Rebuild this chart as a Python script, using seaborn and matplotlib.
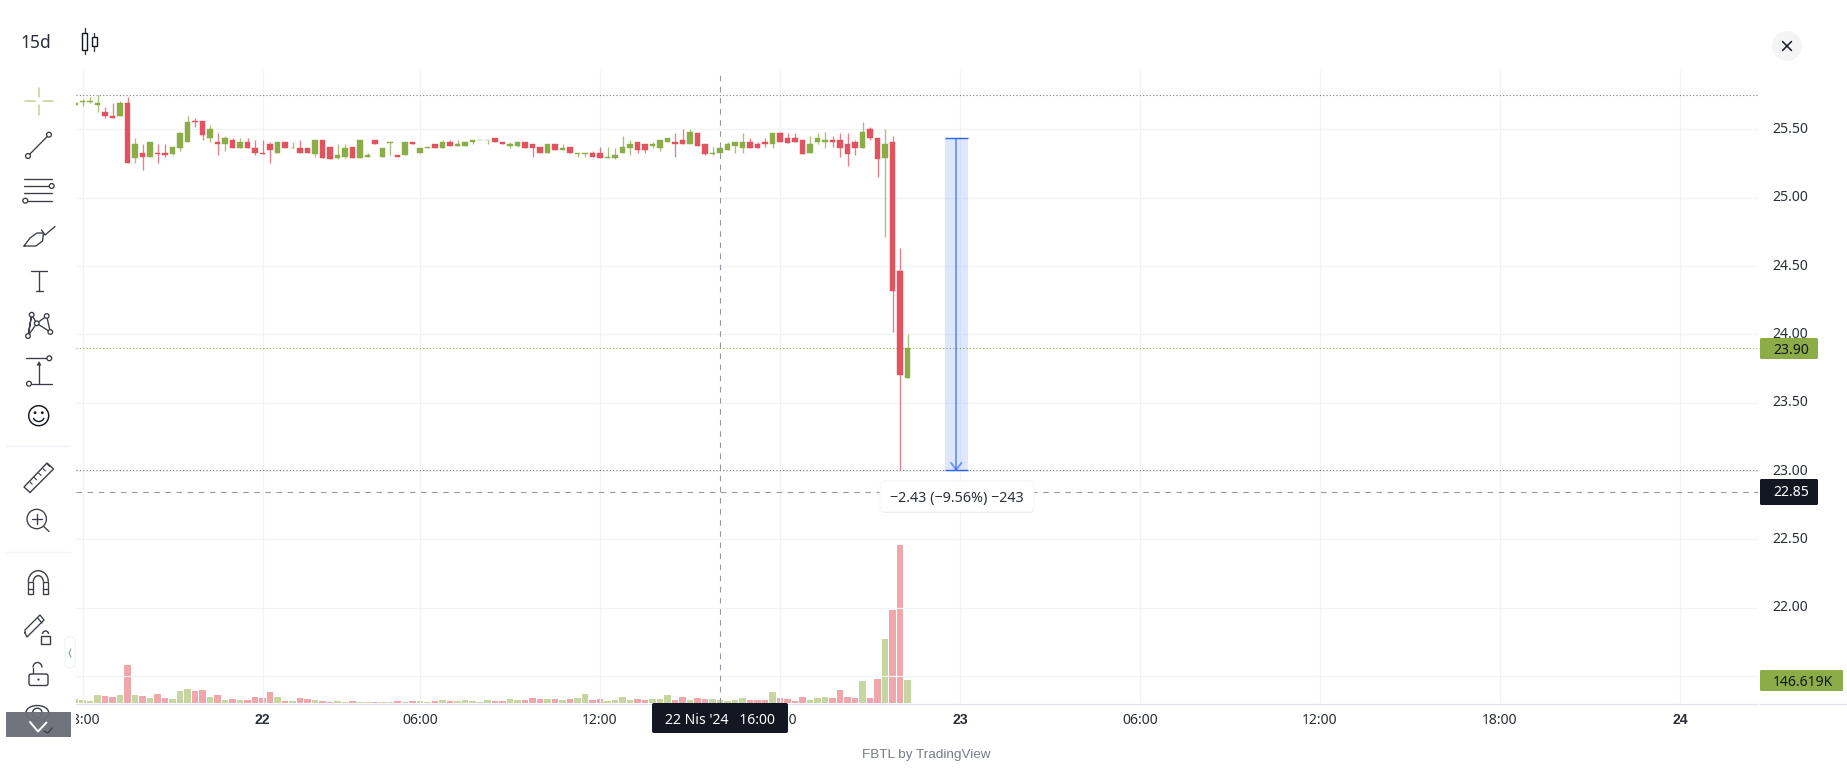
import numpy as np
import pandas as pd
import matplotlib
matplotlib.use("Agg")
import matplotlib.pyplot as plt
from matplotlib.patches import Rectangle, FancyBboxPatch, Circle, Ellipse, Arc, Polygon
import seaborn as sns

# candles: top of body, bottom of body, high, low, per 15 min bar
body_top = [25.69,25.71,25.71,25.69,25.63,25.60,25.69,25.69,
            25.39,25.33,25.41,25.33,25.33,25.37,25.47,25.55,
            25.56,25.56,25.50,25.41,25.44,25.42,25.41,25.41,
            25.36,25.33,25.39,25.41,25.41,25.36,25.36,25.36,
            25.42,25.42,25.37,25.31,25.36,25.37,25.42,25.31,
            25.42,25.36,25.41,25.31,25.41,25.41,25.36,25.37,
            25.39,25.41,25.41,25.39,25.41,25.42,25.42,25.42,
            25.44,25.41,25.39,25.41,25.41,25.39,25.37,25.39,
            25.39,25.36,25.37,25.33,25.33,25.33,25.33,25.30,
            25.31,25.37,25.39,25.41,25.39,25.39,25.42,25.44,
            25.41,25.42,25.48,25.47,25.39,25.33,25.36,25.39,
            25.41,25.41,25.41,25.39,25.41,25.47,25.47,25.44,
            25.44,25.42,25.39,25.44,25.42,25.42,25.42,25.39,
            25.41,25.48,25.50,25.44,25.39,25.41,24.46,23.90]
body_bot = [25.68,25.70,25.70,25.68,25.60,25.58,25.60,25.25,
            25.29,25.30,25.30,25.32,25.31,25.32,25.36,25.41,
            25.55,25.46,25.44,25.39,25.39,25.36,25.36,25.36,
            25.33,25.32,25.35,25.33,25.36,25.36,25.33,25.33,
            25.32,25.29,25.28,25.29,25.30,25.29,25.29,25.30,
            25.39,25.30,25.40,25.30,25.31,25.39,25.33,25.36,
            25.36,25.36,25.38,25.38,25.38,25.41,25.42,25.42,
            25.41,25.39,25.38,25.38,25.36,25.36,25.33,25.33,
            25.35,25.35,25.33,25.32,25.32,25.30,25.29,25.29,
            25.29,25.33,25.36,25.35,25.35,25.38,25.36,25.41,
            25.39,25.39,25.39,25.38,25.32,25.32,25.33,25.35,
            25.38,25.36,25.36,25.36,25.39,25.39,25.41,25.40,
            25.41,25.32,25.33,25.41,25.41,25.41,25.36,25.32,
            25.36,25.36,25.44,25.28,25.29,24.32,23.70,23.68]
highs = [25.69,25.72,25.74,25.75,25.66,25.69,25.71,25.74,
         25.44,25.39,25.41,25.39,25.39,25.37,25.48,25.60,
         25.58,25.56,25.53,25.47,25.45,25.44,25.44,25.44,
         25.42,25.42,25.41,25.41,25.41,25.41,25.42,25.36,
         25.42,25.42,25.37,25.39,25.39,25.37,25.42,25.33,
         25.42,25.36,25.41,25.31,25.41,25.41,25.36,25.37,
         25.39,25.42,25.42,25.42,25.41,25.42,25.42,25.42,
         25.44,25.41,25.41,25.41,25.41,25.39,25.37,25.39,
         25.39,25.39,25.37,25.33,25.33,25.34,25.37,25.37,
         25.36,25.45,25.42,25.41,25.39,25.41,25.42,25.44,
         25.47,25.50,25.50,25.47,25.39,25.37,25.37,25.41,
         25.41,25.47,25.44,25.41,25.44,25.47,25.48,25.47,
         25.47,25.42,25.45,25.47,25.48,25.45,25.47,25.47,
         25.42,25.55,25.52,25.44,25.50,25.45,24.63,24.00]
lows = [25.68,25.67,25.69,25.63,25.58,25.58,25.60,25.25,
        25.25,25.20,25.30,25.25,25.30,25.31,25.34,25.41,
        25.52,25.42,25.41,25.31,25.34,25.36,25.36,25.36,
        25.31,25.32,25.25,25.33,25.36,25.36,25.33,25.33,
        25.30,25.29,25.28,25.28,25.29,25.29,25.29,25.30,
        25.39,25.30,25.31,25.30,25.31,25.39,25.33,25.36,
        25.36,25.36,25.38,25.38,25.38,25.39,25.42,25.39,
        25.41,25.39,25.36,25.37,25.36,25.30,25.33,25.33,
        25.35,25.35,25.33,25.30,25.30,25.30,25.29,25.29,
        25.28,25.33,25.31,25.33,25.33,25.36,25.34,25.41,
        25.30,25.39,25.39,25.38,25.31,25.31,25.33,25.35,
        25.33,25.33,25.36,25.36,25.37,25.36,25.41,25.40,
        25.41,25.32,25.33,25.39,25.36,25.37,25.30,25.23,
        25.31,25.36,25.42,25.15,24.71,24.02,23.01,23.68]
bar_dirs = list("ggggrrgr" "grgrrggg" "rrgrgrgr" "rrrgrgrr" "grrggrgg" "rggrgrgg" "rgrggggg"
                "rrggrrrg" "rgrggrrg" "gggrrggg" "rrgrrggg" "ggrrrgrr" "rrgggrrr" "rgrrgrrg")

# volume in thousands
volume = [27,21,15,52,46,40,52,241,
          52,46,34,59,34,27,78,90,
          78,84,40,52,21,27,21,21,
          40,34,71,40,15,15,34,27,
          21,15,8,15,8,15,8,8,
          8,8,8,15,8,15,15,8,
          15,21,15,15,21,15,8,21,
          15,15,27,21,21,34,27,27,
          27,21,27,34,59,21,27,15,
          21,40,21,27,21,27,27,52,
          21,40,21,34,27,27,21,15,
          21,34,21,21,21,71,34,27,
          15,40,21,34,40,34,84,40,
          34,138,31,151,402,585,993,146.619]

price_ticks = [25.5,25.0,24.5,24.0,23.5,23.0,22.5,22.0,21.5]
price_labels = ["25.50","25.00","24.50","24.00","23.50","23.00","22.50","22.00",""]
time_ticks = [1,25,46,70,94,118,142,166,190,214]
time_labels = ["18:00","22","06:00","12:00","18:00","23","06:00","12:00","18:00","24"]
bold_times = ["22","23","24"]

high_line = 25.75
last_price = 23.90
low_line = 23.01
cross_price = 22.85
cross_bar = 86
range_start, range_end = 116, 119
range_top, range_bottom = 25.44, 23.01

GREEN = "#8bac47"
RED = "#e0535f"
GREEN_VOL = "#c7d6a1"
RED_VOL = "#f0a7ac"
GRID = "#f2f3f5"
INK = "#131722"
LABEL = "#2a2e39"
ICON = "#3a3d47"

sns.set_theme(style="white")
plt.rcParams['font.family'] = ['Noto Sans', 'DejaVu Sans']

W, H = 1847, 780
fig = plt.figure(figsize=(W / 100, H / 100), dpi=100, facecolor="white")
left, right, top, bottom = 76, 1758, 70, 703
rect = [left / W, (H - bottom) / H, (right - left) / W, (bottom - top) / H]

bars = np.arange(len(body_top))
df = pd.DataFrame({"bar": bars, "top": body_top, "bot": body_bot, "hi": highs, "lo": lows,
                   "vol": volume, "dir": bar_dirs})

ax = fig.add_axes(rect)
ax.set_zorder(2)
ax.patch.set_alpha(0)

# volume sits on its own scale under the candles
ax_vol = fig.add_axes(rect)
ax_vol.set_zorder(1)
sns.barplot(data=df, x="bar", y="vol", hue="dir", palette={"g": GREEN_VOL, "r": RED_VOL}, native_scale=True,
            dodge=False, width=0.88, legend=False, saturation=1, ax=ax_vol, linewidth=0)
ax_vol.set_xlim(0.133, 224.4)
ax_vol.set_ylim(0, 3978)
ax_vol.axis("off")

colors = df["dir"].map({"g": GREEN, "r": RED})
ax.vlines(df["bar"], df["lo"], df["hi"], colors=colors, linewidth=0.95, alpha=0.75, zorder=3)
ax.bar(df["bar"], df["top"] - df["bot"], bottom=df["bot"], width=0.68, color=colors, edgecolor=colors,
       linewidth=0.3, zorder=4)

ax.set_xlim(0.133, 224.4)
ax.set_ylim(21.303, 25.934)
ax.set_yticks(price_ticks)
ax.set_yticklabels(price_labels)
ax.set_xticks(time_ticks)
ax.set_xticklabels(time_labels)
ax.yaxis.tick_right()
ax.tick_params(axis="y", length=0, pad=10.5, labelsize=10.1, labelcolor=LABEL)
ax.tick_params(axis="x", length=0, pad=7, labelsize=10.1, labelcolor=LABEL)
for lab in ax.get_yticklabels():
    lab.set_verticalalignment("center")
# Noto Sans here has no bold cut, the day labels need one that does
for lab, name in zip(ax.get_xticklabels(), time_labels):
    if name in bold_times:
        lab.set_family(["Liberation Sans", "DejaVu Sans"])
        lab.set_fontweight("bold")
ax.grid(True, color=GRID, linewidth=0.9, zorder=0)
ax.set_axisbelow(True)
sns.despine(ax=ax, left=True, bottom=True, top=True, right=True)

# price lines and crosshair
ax.axhline(high_line, color="#787b86", linewidth=0.8, linestyle=(0, (1, 2)), zorder=2)
ax.axhline(last_price, color=GREEN, linewidth=0.8, linestyle=(0, (1, 2)), zorder=2)
ax.axhline(low_line, color="#787b86", linewidth=0.8, linestyle=(0, (1, 2)), zorder=2)
ax.axhline(cross_price, color="#9598a1", linewidth=0.8, linestyle=(0, (5, 5)), zorder=2)
ax.axvline(cross_bar, color="#9598a1", linewidth=0.8, linestyle=(0, (5, 5)), zorder=5)

# measure tool
ax.add_patch(Rectangle((range_start, range_bottom), range_end - range_start, range_top - range_bottom,
                       facecolor="#2962ff", alpha=0.15, edgecolor="none", zorder=3))
mid = (range_start + range_end) / 2
ax.hlines([range_top, range_bottom], range_start, range_end, color="#2962ff", linewidth=1.0, zorder=6)
ax.vlines(mid, range_bottom, range_top, color="#2962ff", alpha=0.6, linewidth=1.4, zorder=6)
ax.plot([mid - 0.7, mid, mid + 0.7], [range_bottom + 0.05, range_bottom, range_bottom + 0.05],
        color="#2962ff", alpha=0.6, linewidth=1.4, zorder=6)

# everything around the plot, in screen pixels
ui = fig.add_axes([0, 0, 1, 1])
ui.set_zorder(5)
ui.set_xlim(0, W)
ui.set_ylim(H, 0)
ui.axis("off")


def line(xs, ys, color=ICON, lw=0.95, z=2):
    ui.plot(xs, ys, color=color, linewidth=lw, solid_capstyle="round", solid_joinstyle="round",
            clip_on=False, zorder=z)


def ring(x, y, r, color=ICON, lw=0.95, face="white"):
    ui.add_patch(Circle((x, y), r, facecolor=face, edgecolor=color, linewidth=lw, zorder=3))


# hide the part of the first time label that runs under the toolbar
ui.add_patch(Rectangle((0, 704), left, 50, facecolor="white", edgecolor="none", zorder=1))
line([left, 1758], [703.5, 703.5], color="#e0e3eb", lw=0.9)
line([1760, W], [703.5, 703.5], color="#e0e3eb", lw=0.9)

# right hand price labels
ui.add_patch(FancyBboxPatch((1760, 338), 58, 21, boxstyle="round,pad=0,rounding_size=1.5", facecolor=GREEN, edgecolor="none", zorder=2))
ui.text(1773, 350, "23.90", color=INK, fontsize=10.1, va="center", zorder=3)
ui.add_patch(FancyBboxPatch((1760, 479), 58, 26, boxstyle="round,pad=0,rounding_size=1.5", facecolor=INK, edgecolor="none", zorder=2))
ui.text(1773, 493, "22.85", color="white", fontsize=10.1, va="center", zorder=3)
ui.add_patch(FancyBboxPatch((1760, 670), 83, 21, boxstyle="round,pad=0,rounding_size=1.5", facecolor=GREEN, edgecolor="none", zorder=2))
ui.text(1773, 682, "146.619K", color=INK, fontsize=10.1, va="center", zorder=3)

# crosshair time label and footer
ui.add_patch(FancyBboxPatch((652, 703), 136, 30, boxstyle="round,pad=0,rounding_size=2", facecolor=INK, edgecolor="none", zorder=2))
ui.text(720, 720.5, "22 Nis '24   16:00", color="white", fontsize=10.1, ha="center", va="center", zorder=3)
ui.text(926, 755, "FBTL by TradingView", color="#787b86", fontsize=9.7, ha="center", va="center",
        family=["Liberation Sans", "DejaVu Sans"])

# range label
ui.add_patch(FancyBboxPatch((881, 483), 153, 30, boxstyle="round,pad=0,rounding_size=5", facecolor="#e9eaec", edgecolor="none", zorder=2))
ui.add_patch(FancyBboxPatch((880, 481), 154, 31, boxstyle="round,pad=0,rounding_size=5", facecolor="white", edgecolor="#f0f1f3", linewidth=0.6, zorder=2))
ui.text(957, 498.5, "−2.43 (−9.56%) −243", color=LABEL, fontsize=10.3, ha="center", va="center", zorder=3)

# header
ui.text(36, 43, "15d", color=LABEL, fontsize=12.5, ha="center", va="center")
line([84.8, 84.8], [28, 54], lw=1.0)
ui.add_patch(Rectangle((82.3, 33.3), 5, 16.7, facecolor="white", edgecolor=INK, linewidth=1.0, zorder=3))
line([94.4, 94.4], [32.7, 50.7], lw=1.0)
ui.add_patch(Rectangle((92, 36.7), 5, 9.3, facecolor="white", edgecolor=INK, linewidth=1.0, zorder=3))
ui.add_patch(Ellipse((1787, 46), 30, 30, facecolor="#f4f4f5", edgecolor="none"))
line([1782.5, 1791.5], [41.5, 50.5], color=INK, lw=1.1, z=3)
line([1782.5, 1791.5], [50.5, 41.5], color=INK, lw=1.1, z=3)

# toolbar: crosshair
line([25, 35], [100.7, 100.7], color=GREEN_VOL, lw=1.2)
line([43, 53], [100.7, 100.7], color=GREEN_VOL, lw=1.2)
line([39, 39], [88, 97], color=GREEN_VOL, lw=1.2)
line([39, 39], [105, 115], color=GREEN_VOL, lw=1.2)
# trend line
line([28, 49], [156, 134.7])
ring(28, 156, 2.4)
ring(49, 134.7, 2.4)
# fib
for yy in [178.7, 186, 193.3, 200.7]:
    line([24.3, 52.3], [yy, yy])
ring(51.7, 186, 2.4)
ring(25.3, 200.7, 2.4)
# brush
line([24, 30, 37, 43.5, 42.5, 36, 24], [246, 238, 233, 233, 241, 246, 246])
line([41.5, 45, 55], [230, 235, 226.5])
# text tool
line([31, 47], [271, 271])
line([39, 39], [271, 291])
line([35.5, 42.5], [291, 291])
# pattern
pts = [(31.7, 314.7), (46.7, 316), (36.7, 323.3), (50.3, 332), (28, 336)]
line([28, 31.7, 36.7, 28, 31.7], [336, 314.7, 323.3, 336, 314.7])
line([36.7, 46.7, 50.3, 36.7], [323.3, 316, 332, 323.3])
for px, py in pts:
    ring(px, py, 2.3)
# measure
line([26, 46.5], [358.3, 358.3])
ring(49.3, 358.3, 2.4)
line([32, 52], [383.7, 383.7])
ring(29, 383.7, 2.4)
line([39, 39], [383.7, 363])
ui.add_patch(Polygon([(39, 361), (36.5, 365.5), (41.5, 365.5)], facecolor=ICON, edgecolor="none"))
# smiley
ring(38.7, 415.7, 10, color=INK, lw=1.05)
ui.add_patch(Circle((35, 412.7), 1.4, facecolor=INK, edgecolor="none", zorder=4))
ui.add_patch(Circle((42.3, 412.7), 1.4, facecolor=INK, edgecolor="none", zorder=4))
ui.add_patch(Arc((38.7, 416.5), 11, 10, theta1=15, theta2=165, edgecolor=INK, linewidth=1.0, zorder=4))
# separators
line([6, 70], [446, 446], color="#f0f3fa", lw=1.0)
line([6, 70], [552, 552], color="#f0f3fa", lw=1.0)
# ruler
ui.add_patch(Polygon([(24, 487), (47, 463), (53.5, 469), (30, 492.5)], closed=True, facecolor="white", edgecolor=ICON, linewidth=1.0, zorder=1))
for k in range(5):
    tx = 30 + k * 4.4
    ty = 482 - k * 4.4
    line([tx, tx + 2.2], [ty, ty + 2.2], lw=0.8)
# zoom
ring(36.7, 519, 9.7)
line([44, 49], [526.7, 531.5])
line([32, 41.5], [519, 519], z=4)
line([36.7, 36.7], [514.3, 523.7], z=4)
# magnet
ui.add_patch(Arc((38.3, 581.7), 20, 22, theta1=180, theta2=360, edgecolor=ICON, linewidth=1.0))
ui.add_patch(Arc((38.3, 581.7), 10, 12, theta1=180, theta2=360, edgecolor=ICON, linewidth=1.0))
line([28.3, 28.3, 33.3, 33.3, 28.3], [581.7, 594, 594, 581.7, 581.7])
line([43.3, 43.3, 48.3, 48.3, 43.3], [581.7, 594, 594, 581.7, 581.7])
line([28.3, 33.3], [589, 589])
line([43.3, 48.3], [589, 589])
# pencil with lock
line([25, 27, 44, 40, 25, 25], [633, 637, 620, 615, 630, 633])
line([37.5, 42], [618, 623])
ui.add_patch(Rectangle((41, 636), 9, 7.5, facecolor="white", edgecolor=ICON, linewidth=1.0, zorder=3))
ui.add_patch(Arc((45.5, 634), 6, 6, theta1=180, theta2=360, edgecolor=ICON, linewidth=1.0))
# lock
ui.add_patch(FancyBboxPatch((29, 674), 19, 11.5, boxstyle="round,pad=0,rounding_size=2", facecolor="white", edgecolor=ICON, linewidth=1.0, zorder=3))
ui.add_patch(Arc((37.5, 667.5), 9, 10, theta1=180, theta2=360, edgecolor=ICON, linewidth=1.0))
line([33, 33], [667.5, 674])
ui.add_patch(Circle((38.5, 679.5), 1.1, facecolor=ICON, edgecolor="none", zorder=4))
# eye and the grey box over it
ui.add_patch(Ellipse((37.3, 713), 23, 15, facecolor="white", edgecolor=ICON, linewidth=1.0, zorder=2))
ui.add_patch(Circle((37.3, 713), 4.8, facecolor="white", edgecolor=ICON, linewidth=1.0, zorder=2))
ui.add_patch(Rectangle((6, 712), 65, 25, facecolor="#6c6f78", edgecolor="none", alpha=0.97, zorder=5))
line([30, 38, 46.5], [722, 731.5, 722.5], color="white", lw=1.4, z=6)
line([44, 48, 52], [731, 733, 728], color=ICON, lw=0.9, z=6)
# collapse tab
ui.add_patch(FancyBboxPatch((65, 637), 10, 31, boxstyle="round,pad=0,rounding_size=4", facecolor="white", edgecolor="#f0f3fa", linewidth=0.8, zorder=4))
line([71, 69, 71], [649, 653, 657], color="#7a9bb0", lw=0.8, z=5)

fig.savefig("out.png", dpi=100)
